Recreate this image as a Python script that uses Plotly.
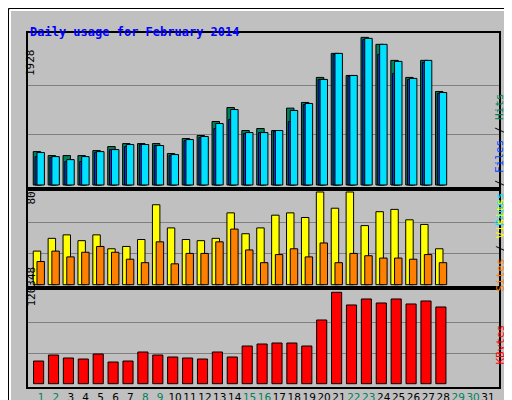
import plotly.graph_objects as go
from plotly.subplots import make_subplots

days = list(range(1, 29))
hits = [429, 378, 378, 378, 442, 494, 532, 532, 532, 404, 597, 636, 816, 996, 700,
        726, 700, 988, 1061, 1383, 1692, 1408, 1898, 1808, 1602, 1383, 1602, 1202]
files = [365, 356, 301, 301, 421, 455, 494, 520, 507, 378, 571, 610, 726, 842, 661,
         674, 690, 816, 1035, 1357, 1679, 1396, 1872, 1679, 1434, 1357, 1576, 1177]
pages = [417, 365, 326, 365, 429, 455, 520, 520, 507, 391, 584, 623, 790, 970, 674,
         674, 700, 958, 1048, 1357, 1692, 1408, 1885, 1808, 1589, 1370, 1602, 1189]
visits = [29, 40, 43, 38, 43, 31, 33, 39, 69, 49, 39, 38, 40, 62, 44,
          49, 60, 62, 58, 80, 66, 80, 51, 63, 65, 56, 52, 31]
sites = [20, 29, 24, 28, 33, 28, 22, 19, 37, 18, 27, 27, 37, 48, 30,
         19, 26, 31, 24, 36, 19, 27, 25, 23, 23, 22, 26, 19]
kbytes = [29866, 37773, 33820, 32500, 39090, 28550, 29866, 41725, 37773, 35137, 33820,
          32500, 41725, 35137, 49630, 52266, 53583, 53583, 49630, 83890, 120348, 103654,
          111560, 106290, 111560, 104973, 108926, 101020]
tick_days = list(range(1, 32))
weekend = {1, 2, 8, 9, 15, 16, 22, 23, 29, 30}
max_hits, max_visits, max_kb = 1928, 80, 120348

GREEN = "#00805C"; BLUE = "#0040FF"; CYAN = "#00E0FF"
YEL = "#FFFF00"; ORG = "#FF8000"; RED = "#FF0000"
BG = "#C0C0C0"; MONO = "DejaVu Sans Mono"

fig = make_subplots(rows=3, cols=1, shared_xaxes=True, vertical_spacing=0,
                    row_heights=[155.7, 99.3, 99])
line = dict(color="black", width=1)
fig.add_bar(x=days, y=hits, offset=-0.52, width=0.5, marker=dict(color=GREEN, line=line), row=1, col=1)
fig.add_bar(x=days, y=files, offset=-0.4, width=0.5, marker=dict(color=BLUE, line=line), row=1, col=1)
fig.add_bar(x=days, y=pages, offset=-0.27, width=0.5, marker=dict(color=CYAN, line=line), row=1, col=1)
fig.add_bar(x=days, y=visits, offset=-0.52, width=0.5, marker=dict(color=YEL, line=line), row=2, col=1)
fig.add_bar(x=days, y=sites, offset=-0.27, width=0.5, marker=dict(color=ORG, line=line), row=2, col=1)
fig.add_bar(x=days, y=kbytes, offset=-0.5, width=0.68, marker=dict(color=RED, line=line), row=3, col=1)

ax = dict(showline=True, linecolor="black", linewidth=1.5, mirror=True, zeroline=False,
          showticklabels=False, ticks="", gridcolor="#808080", gridwidth=1)
fig.update_yaxes(**ax)
fig.update_yaxes(range=[-48, 1954], tickvals=[max_hits / 3, 2 * max_hits / 3], row=1, col=1)
fig.update_yaxes(range=[-2.85, 82.85], tickvals=[max_visits / 3, 2 * max_visits / 3], row=2, col=1)
fig.update_yaxes(range=[-4346, 126010], tickvals=[max_kb / 3, 2 * max_kb / 3], row=3, col=1)
fig.update_xaxes(showline=True, linecolor="black", linewidth=1.5, mirror=True, showgrid=False,
                 zeroline=False, range=[0.128, 31.74], ticks="")
ticktext = [f"<span style='color:{'#00805C' if d in weekend else 'black'}'>{d}</span>" for d in tick_days]
fig.update_xaxes(tickmode="array", tickvals=tick_days, ticktext=ticktext, tickangle=0,
                 showticklabels=True, tickfont=dict(family="DejaVu Sans", size=10.5), row=3, col=1)

fig.update_layout(width=512, height=400, barmode="overlay", showlegend=False,
                  paper_bgcolor=BG, plot_bgcolor=BG,
                  margin=dict(l=20, r=21, t=25, b=21, autoexpand=False))

def px(x): return (x - 20) / 471
def py(y): return (379 - y) / 354

shapes = [
    dict(type="rect", xref="paper", yref="paper", x0=px(0.5), x1=px(511.5), y0=py(399.5), y1=py(0.5),
         line=dict(color="black", width=1)),
    dict(type="line", xref="paper", yref="paper", x0=px(2), x1=px(506), y0=py(2), y1=py(2),
         line=dict(color="white", width=2)),
    dict(type="line", xref="paper", yref="paper", x0=px(2), x1=px(2), y0=py(2), y1=py(394),
         line=dict(color="white", width=2)),
    dict(type="rect", xref="paper", yref="paper", x0=px(506), x1=px(511), y0=py(399), y1=py(3),
         fillcolor="#808080", line=dict(width=0)),
    dict(type="rect", xref="paper", yref="paper", x0=px(3), x1=px(511), y0=py(399), y1=py(394),
         fillcolor="#808080", line=dict(width=0)),
]
fig.update_layout(shapes=shapes)

ann = [
    dict(text="<b>Daily usage for February 2014</b>", x=px(20), y=py(15), xanchor="left",
         font=dict(family=MONO, size=12, color="#0000FF")),
    dict(text="1928", x=px(14), y=py(39), textangle=-90, font=dict(family=MONO, size=11, color="black")),
    dict(text="80", x=px(14), y=py(190), textangle=-90, font=dict(family=MONO, size=11, color="black")),
    dict(text="120348", x=px(14), y=py(301), textangle=-90, font=dict(family=MONO, size=11, color="black")),
    dict(text=f"<span style='color:{CYAN}'>Pages</span> / <span style='color:{BLUE}'>Files</span> / <span style='color:{GREEN}'>Hits</span>",
         x=px(500), y=py(83), textangle=-90, font=dict(family=MONO, size=11, color="black")),
    dict(text=f"<span style='color:{ORG}'>Sites</span> / <span style='color:{YEL}'>Visits</span>",
         x=px(500), y=py(237), textangle=-90, font=dict(family=MONO, size=11, color="black")),
    dict(text=f"<span style='color:{RED}'>KBytes</span>",
         x=px(500), y=py(359), textangle=-90, font=dict(family=MONO, size=11, color="black")),
]
for a in ann:
    a.update(xref="paper", yref="paper", showarrow=False)
fig.update_layout(annotations=ann)

fig.write_html("out.html")
